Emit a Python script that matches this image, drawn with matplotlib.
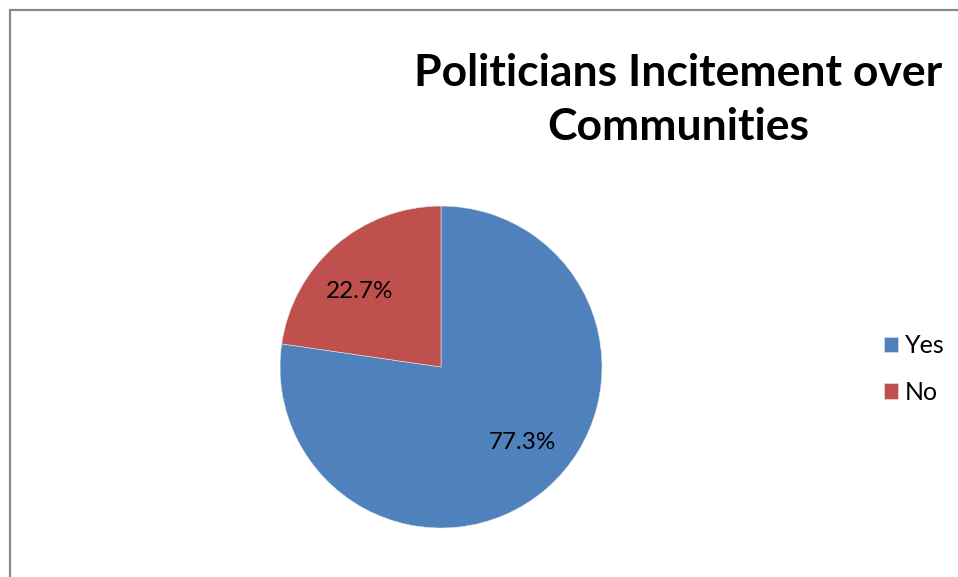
import matplotlib
matplotlib.use("Agg")
import numpy as np
import matplotlib.pyplot as plt
from matplotlib.patches import Rectangle

plt.rcParams['font.family'] = ['Lato', 'DejaVu Sans']

labels = ["Yes", "No"]
shares = [77.3, 22.7]
colors = ["#4F81BD", "#C0504D"]
title = "Politicians Incitement over\nCommunities"

fig = plt.figure(figsize=(9.58, 5.77), dpi=100)

# chart frame, only top and left edges fall inside the image
fig.patches.append(Rectangle((9.5 / 958, -0.1), 1.2, 1.1 - 9.5 / 577,
                             transform=fig.transFigure, fill=False,
                             edgecolor="#898989", linewidth=1.6))

ax = fig.add_axes([0.2923, 0.0849, 0.3361, 0.558])
wedges, texts, autotexts = ax.pie(
    shares, colors=colors, startangle=90, counterclock=False,
    autopct="%.1f%%", pctdistance=0.69,
    wedgeprops=dict(edgecolor="#E6E6E6", linewidth=0.4),
    textprops=dict(fontsize=17.5, color="black"))
# nudge the percent labels a little counterclockwise off the bisector
for w, t in zip(wedges, autotexts):
    ang = np.deg2rad((w.theta1 + w.theta2) / 2 + 6.5)
    t.set_position((0.69 * np.cos(ang), 0.69 * np.sin(ang)))
ax.set_xlim(-1, 1)
ax.set_ylim(-1, 1)
ax.set_aspect("equal")

fig.text(678 / 958, 1 - 100 / 577, title, ha="center", va="center",
         fontsize=32, fontweight="bold", linespacing=1.45)

fig.legend(wedges, labels, loc="center left",
           bbox_to_anchor=(861 / 958, 1 - 369 / 577), frameon=False,
           fontsize=18, handlelength=0.56, handleheight=0.56,
           handletextpad=0.3, labelspacing=0.95)

fig.savefig("out.png", dpi=100, facecolor="white")
